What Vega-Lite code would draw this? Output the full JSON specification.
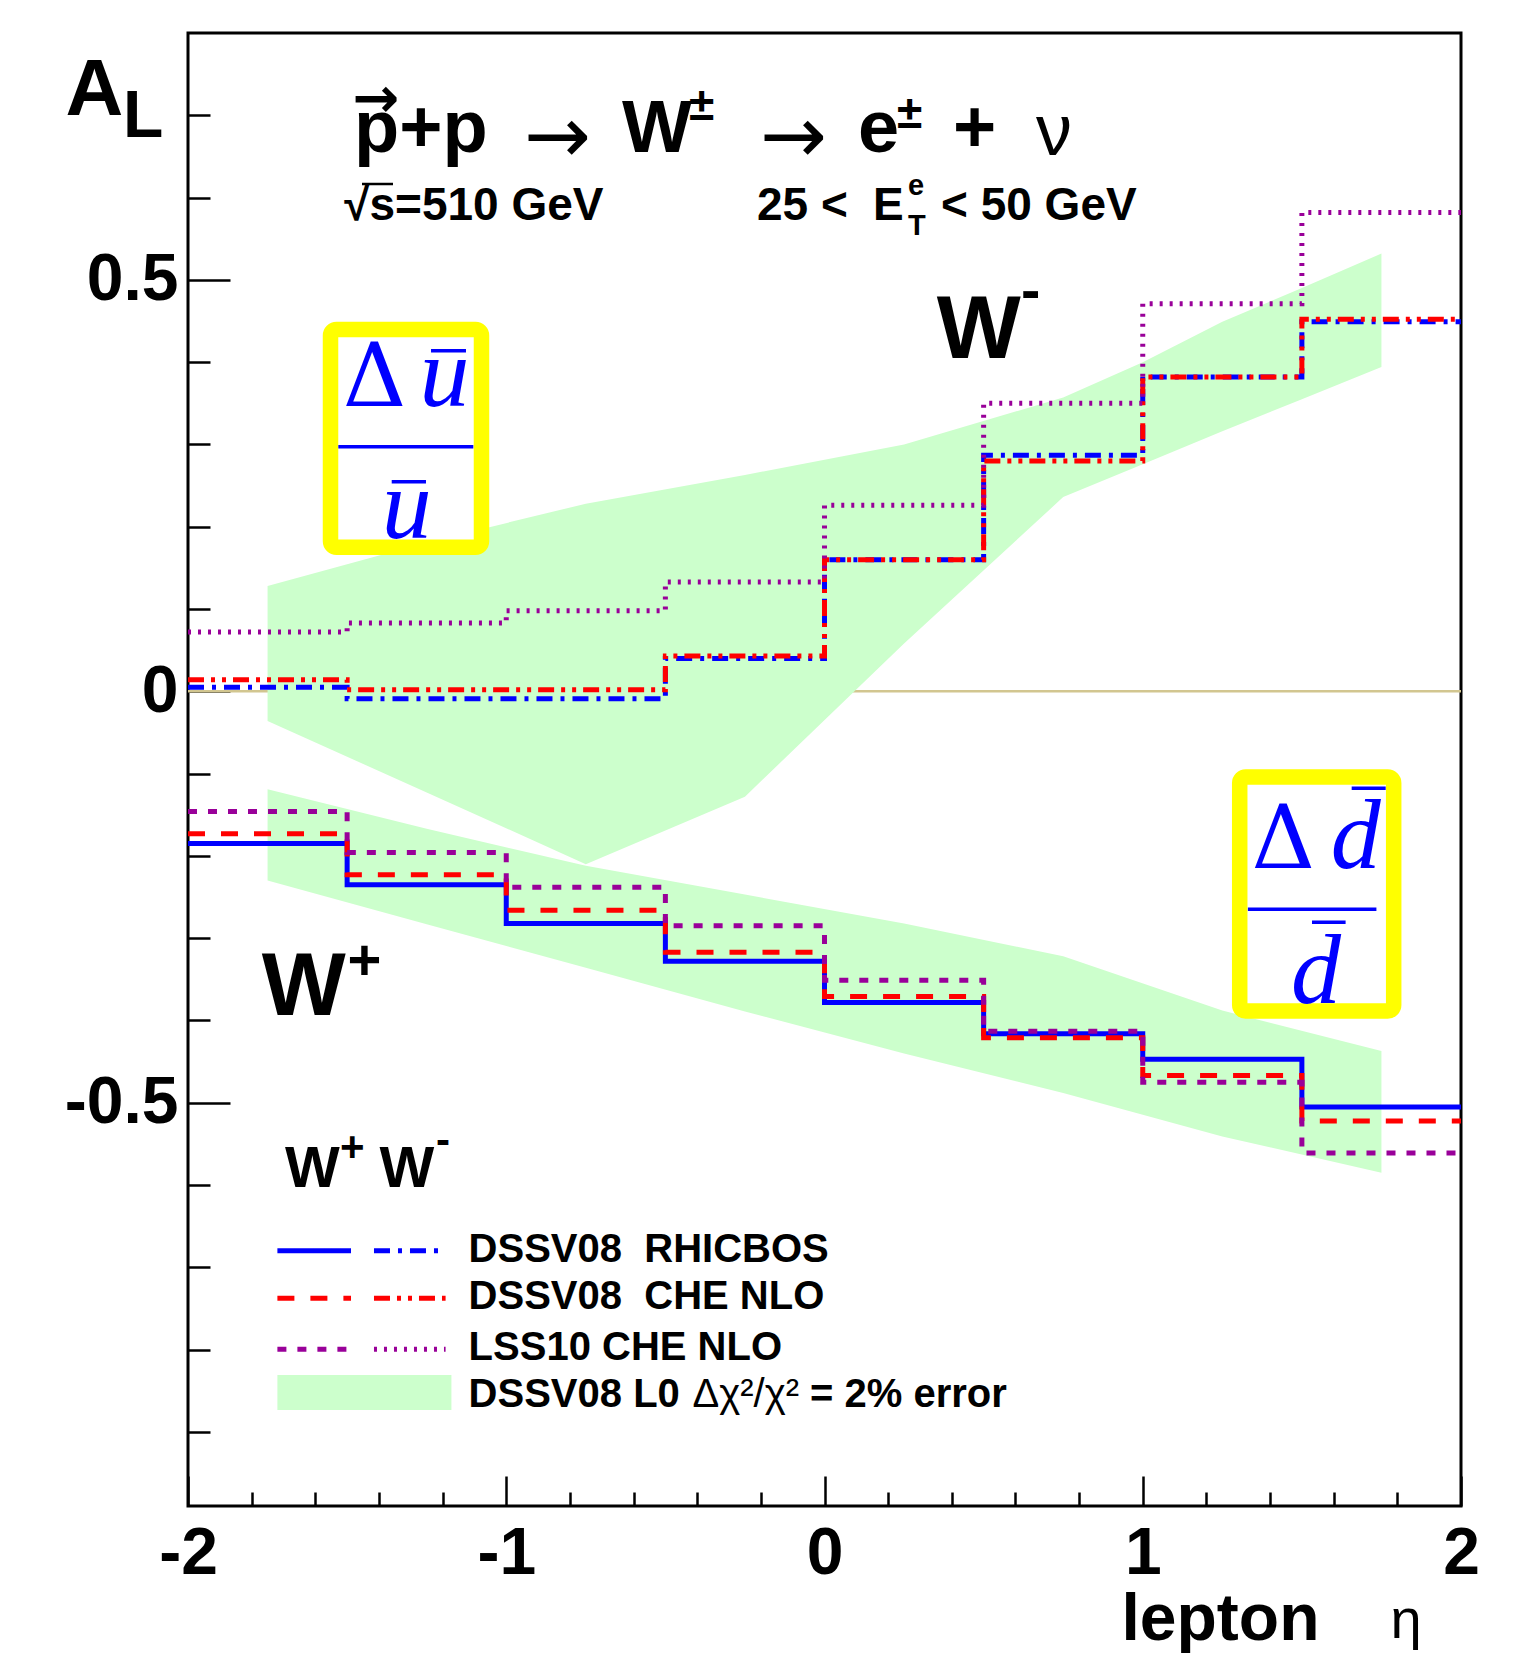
{
  "$schema": "https://vega.github.io/schema/vega-lite/v6.json",
  "width": 1273,
  "height": 1473,
  "autosize": {"type": "none"},
  "padding": {"left": 188, "top": 33, "right": 69, "bottom": 147},
  "background": "white",
  "config": {
    "view": {"stroke": "black", "strokeWidth": 3},
    "axis": {"grid": false, "domain": false, "tickColor": "black", "tickWidth": 2.5, "labelFont": "Liberation Sans", "labelFontWeight": "bold", "labelFontSize": 66, "labelColor": "black", "titleFont": "Liberation Sans", "titleFontWeight": "bold", "titleColor": "black"},
    "text": {"font": "Liberation Sans", "color": "black"}
  },
  "datasets": {
    "lines": [
      {"series": "DSSV08 RHICBOS W+", "eta": -2, "AL": -0.185},
      {"series": "DSSV08 RHICBOS W+", "eta": -1.5, "AL": -0.235},
      {"series": "DSSV08 RHICBOS W+", "eta": -1, "AL": -0.282},
      {"series": "DSSV08 RHICBOS W+", "eta": -0.5, "AL": -0.328},
      {"series": "DSSV08 RHICBOS W+", "eta": 0, "AL": -0.378},
      {"series": "DSSV08 RHICBOS W+", "eta": 0.5, "AL": -0.416},
      {"series": "DSSV08 RHICBOS W+", "eta": 1, "AL": -0.447},
      {"series": "DSSV08 RHICBOS W+", "eta": 1.5, "AL": -0.505},
      {"series": "DSSV08 RHICBOS W+", "eta": 2, "AL": -0.505},
      {"series": "DSSV08 CHE NLO W+", "eta": -2, "AL": -0.173},
      {"series": "DSSV08 CHE NLO W+", "eta": -1.5, "AL": -0.223},
      {"series": "DSSV08 CHE NLO W+", "eta": -1, "AL": -0.266},
      {"series": "DSSV08 CHE NLO W+", "eta": -0.5, "AL": -0.317},
      {"series": "DSSV08 CHE NLO W+", "eta": 0, "AL": -0.371},
      {"series": "DSSV08 CHE NLO W+", "eta": 0.5, "AL": -0.421},
      {"series": "DSSV08 CHE NLO W+", "eta": 1, "AL": -0.467},
      {"series": "DSSV08 CHE NLO W+", "eta": 1.5, "AL": -0.522},
      {"series": "DSSV08 CHE NLO W+", "eta": 2, "AL": -0.522},
      {"series": "LSS10 CHE NLO W+", "eta": -2, "AL": -0.146},
      {"series": "LSS10 CHE NLO W+", "eta": -1.5, "AL": -0.196},
      {"series": "LSS10 CHE NLO W+", "eta": -1, "AL": -0.238},
      {"series": "LSS10 CHE NLO W+", "eta": -0.5, "AL": -0.285},
      {"series": "LSS10 CHE NLO W+", "eta": 0, "AL": -0.351},
      {"series": "LSS10 CHE NLO W+", "eta": 0.5, "AL": -0.413},
      {"series": "LSS10 CHE NLO W+", "eta": 1, "AL": -0.475},
      {"series": "LSS10 CHE NLO W+", "eta": 1.5, "AL": -0.561},
      {"series": "LSS10 CHE NLO W+", "eta": 2, "AL": -0.561},
      {"series": "DSSV08 RHICBOS W-", "eta": -2, "AL": 0.005},
      {"series": "DSSV08 RHICBOS W-", "eta": -1.5, "AL": -0.009},
      {"series": "DSSV08 RHICBOS W-", "eta": -1, "AL": -0.009},
      {"series": "DSSV08 RHICBOS W-", "eta": -0.5, "AL": 0.040},
      {"series": "DSSV08 RHICBOS W-", "eta": 0, "AL": 0.160},
      {"series": "DSSV08 RHICBOS W-", "eta": 0.5, "AL": 0.287},
      {"series": "DSSV08 RHICBOS W-", "eta": 1, "AL": 0.382},
      {"series": "DSSV08 RHICBOS W-", "eta": 1.5, "AL": 0.449},
      {"series": "DSSV08 RHICBOS W-", "eta": 2, "AL": 0.449},
      {"series": "DSSV08 CHE NLO W-", "eta": -2, "AL": 0.014},
      {"series": "DSSV08 CHE NLO W-", "eta": -1.5, "AL": 0.002},
      {"series": "DSSV08 CHE NLO W-", "eta": -1, "AL": 0.002},
      {"series": "DSSV08 CHE NLO W-", "eta": -0.5, "AL": 0.043},
      {"series": "DSSV08 CHE NLO W-", "eta": 0, "AL": 0.160},
      {"series": "DSSV08 CHE NLO W-", "eta": 0.5, "AL": 0.280},
      {"series": "DSSV08 CHE NLO W-", "eta": 1, "AL": 0.382},
      {"series": "DSSV08 CHE NLO W-", "eta": 1.5, "AL": 0.452},
      {"series": "DSSV08 CHE NLO W-", "eta": 2, "AL": 0.452},
      {"series": "LSS10 CHE NLO W-", "eta": -2, "AL": 0.072},
      {"series": "LSS10 CHE NLO W-", "eta": -1.5, "AL": 0.083},
      {"series": "LSS10 CHE NLO W-", "eta": -1, "AL": 0.098},
      {"series": "LSS10 CHE NLO W-", "eta": -0.5, "AL": 0.133},
      {"series": "LSS10 CHE NLO W-", "eta": 0, "AL": 0.226},
      {"series": "LSS10 CHE NLO W-", "eta": 0.5, "AL": 0.350},
      {"series": "LSS10 CHE NLO W-", "eta": 1, "AL": 0.471},
      {"series": "LSS10 CHE NLO W-", "eta": 1.5, "AL": 0.582},
      {"series": "LSS10 CHE NLO W-", "eta": 2, "AL": 0.582}
    ],
    "bands": [
      {"band": "W-", "eta": -1.75, "upper": 0.128, "lower": -0.036},
      {"band": "W-", "eta": -1.25, "upper": 0.181, "lower": -0.123},
      {"band": "W-", "eta": -0.75, "upper": 0.228, "lower": -0.210},
      {"band": "W-", "eta": -0.25, "upper": 0.263, "lower": -0.128},
      {"band": "W-", "eta": 0.25, "upper": 0.300, "lower": 0.058},
      {"band": "W-", "eta": 0.75, "upper": 0.357, "lower": 0.236},
      {"band": "W-", "eta": 1.0, "upper": 0.400, "lower": 0.276},
      {"band": "W-", "eta": 1.25, "upper": 0.449, "lower": 0.316},
      {"band": "W-", "eta": 1.5, "upper": 0.490, "lower": 0.355},
      {"band": "W-", "eta": 1.75, "upper": 0.532, "lower": 0.394},
      {"band": "W+", "eta": -1.75, "upper": -0.119, "lower": -0.230},
      {"band": "W+", "eta": -1.25, "upper": -0.167, "lower": -0.283},
      {"band": "W+", "eta": -0.75, "upper": -0.212, "lower": -0.336},
      {"band": "W+", "eta": -0.25, "upper": -0.247, "lower": -0.389},
      {"band": "W+", "eta": 0.25, "upper": -0.282, "lower": -0.440},
      {"band": "W+", "eta": 0.75, "upper": -0.322, "lower": -0.488},
      {"band": "W+", "eta": 1.25, "upper": -0.388, "lower": -0.541},
      {"band": "W+", "eta": 1.75, "upper": -0.437, "lower": -0.585}
    ],
    "legendSamples": [
      {"series": "DSSV08 RHICBOS W+", "eta": -1.7191, "eta2": -1.4878, "AL": -0.6798},
      {"series": "DSSV08 RHICBOS W-", "eta": -1.4156, "eta2": -1.1906, "AL": -0.6798},
      {"series": "DSSV08 CHE NLO W+", "eta": -1.7191, "eta2": -1.4878, "AL": -0.7376},
      {"series": "DSSV08 CHE NLO W-", "eta": -1.4156, "eta2": -1.1906, "AL": -0.7376},
      {"series": "LSS10 CHE NLO W+", "eta": -1.7191, "eta2": -1.4878, "AL": -0.7996},
      {"series": "LSS10 CHE NLO W-", "eta": -1.4156, "eta2": -1.1906, "AL": -0.7996}
    ],
    "legendBand": [
      {"eta": -1.7191, "eta2": -1.1723, "AL": -0.8308, "AL2": -0.8733}
    ],
    "boxes": [
      {"eta": -1.5522, "eta2": -1.0778, "AL": 0.4397, "AL2": 0.1751},
      {"eta": 1.3047, "eta2": 1.7885, "AL": -0.1041, "AL2": -0.3885}
    ],
    "boxBars": [
      {"eta": -1.2364, "eta2": -1.1265, "AL": 0.4139},
      {"eta": -1.5277, "eta2": -1.1035, "AL": 0.2973},
      {"eta": -1.3599, "eta2": -1.2522, "AL": 0.2547},
      {"eta": 1.6565, "eta2": 1.7634, "AL": -0.1179},
      {"eta": 1.3304, "eta2": 1.7342, "AL": -0.2649},
      {"eta": 1.5318, "eta2": 1.6374, "AL": -0.2807}
    ],
    "sqrtBar": [
      {"eta": -1.4533, "eta2": -1.3559, "AL": 0.6165}
    ],
    "boxDelta": [
      {"label": "Δ", "eta": -1.5139, "AL": 0.3467},
      {"label": "Δ", "eta": 1.3420, "AL": -0.2151}
    ],
    "boxItalic": [
      {"label": "u", "eta": -1.2723, "AL": 0.3467},
      {"label": "u", "eta": -1.3914, "AL": 0.1860},
      {"label": "d", "eta": 1.5906, "AL": -0.2151},
      {"label": "d", "eta": 1.4658, "AL": -0.3791}
    ],
    "header74": [
      {"label": "p+p", "eta": -1.4784, "AL": 0.6554},
      {"label": "W", "eta": -0.6363, "AL": 0.6554},
      {"label": "e", "eta": 0.1053, "AL": 0.6554},
      {"label": "+", "eta": 0.4038, "AL": 0.6554}
    ],
    "headerArrows": [
      {"label": "→", "eta": -0.9442, "AL": 0.642},
      {"label": "→", "eta": -0.2027, "AL": 0.642}
    ],
    "headerNu": [
      {"label": "ν", "eta": 0.6645, "AL": 0.6517}
    ],
    "arrowP": [
      {"label": "→", "eta": -1.4093, "AL": 0.6979}
    ],
    "sup46": [
      {"label": "±", "eta": -0.4258, "AL": 0.6943},
      {"label": "±", "eta": 0.2278, "AL": 0.6846}
    ],
    "sub46": [
      {"label": "√s=510 GeV", "eta": -1.5092, "AL": 0.5728},
      {"label": "25 <", "eta": -0.2121, "AL": 0.5728},
      {"label": "E", "eta": 0.1524, "AL": 0.5728},
      {"label": "< 50 GeV", "eta": 0.3661, "AL": 0.5728}
    ],
    "small29": [
      {"label": "e", "eta": 0.2624, "AL": 0.6031},
      {"label": "T", "eta": 0.2624, "AL": 0.5545}
    ],
    "bigW": [
      {"label": "W", "eta": 0.3525, "AL": 0.4047},
      {"label": "W", "eta": -1.7684, "AL": -0.3933}
    ],
    "bigSup": [
      {"label": "-", "eta": 0.6174, "AL": 0.4628},
      {"label": "+", "eta": -1.4985, "AL": -0.3508}
    ],
    "legendTitle": [
      {"label": "W", "eta": -1.6955, "AL": -0.6020},
      {"label": "W", "eta": -1.3980, "AL": -0.6020}
    ],
    "legendTitleSup": [
      {"label": "+", "eta": -1.5224, "AL": -0.5712},
      {"label": "-", "eta": -1.2207, "AL": -0.5623}
    ],
    "subL": [
      {"label": "L", "eta": -2.2043, "AL": 0.6736}
    ],
    "etaSymbol": [
      {"label": "η", "eta": 1.7785, "AL": -1.1504}
    ],
    "legendText": [
      {"label": "DSSV08\u00a0\u00a0RHICBOS", "eta": -1.1183, "AL": -0.6936},
      {"label": "DSSV08\u00a0\u00a0CHE NLO", "eta": -1.1183, "AL": -0.7503},
      {"label": "LSS10 CHE NLO", "eta": -1.1183, "AL": -0.8131},
      {"label": "DSSV08 L0", "eta": -1.1183, "AL": -0.8699},
      {"label": "= 2% error", "eta": -0.0456, "AL": -0.8699}
    ],
    "legendGreek": [
      {"label": "Δχ²/χ²", "eta": -0.4148, "AL": -0.8699}
    ]
  },
  "resolve": {"axis": {"x": "independent", "y": "independent"}},
  "layer": [
    {
      "data": {"values": [{}]},
      "mark": {"type": "rule", "color": "#d2c690", "strokeWidth": 2.5},
      "encoding": {
        "x": {"datum": -2, "type": "quantitative", "axis": {"orient": "bottom", "values": [-1.8, -1.6, -1.4, -1.2, -0.8, -0.6, -0.4, -0.2, 0.2, 0.4, 0.6, 0.8, 1.2, 1.4, 1.6, 1.8], "tickSize": -14, "labels": false, "title": null}},
        "x2": {"datum": 2},
        "y": {"datum": 0, "type": "quantitative", "axis": {"orient": "left", "values": [-0.9, -0.8, -0.7, -0.6, -0.4, -0.3, -0.2, -0.1, 0.1, 0.2, 0.3, 0.4, 0.6, 0.7], "tickSize": -22, "labels": false, "title": null}}
      }
    },
    {
      "layer": [
        {
          "data": {"name": "bands"},
          "mark": {"type": "area", "color": "#ccffcc", "opacity": 1},
          "encoding": {
            "x": {"field": "eta", "type": "quantitative", "scale": {"domain": [-2, 2], "nice": false, "zero": false},
              "axis": {"orient": "bottom", "values": [-2, -1, 0, 1, 2], "tickSize": -30, "labelPadding": 45, "labelExpr": "'' + datum.value", "labelFlush": false, "labelOverlap": false, "labelBound": false, "labelAngle": 0,
                "title": "lepton", "titleFontSize": 66, "titleAngle": 0, "titleAlign": "left", "titleBaseline": "alphabetic", "titleX": 933, "titleY": 133}},
            "y": {"field": "upper", "type": "quantitative", "scale": {"domain": [-0.99, 0.8], "nice": false, "zero": false},
              "axis": {"orient": "left", "values": [-0.5, 0, 0.5], "tickSize": -42, "labelPadding": 52, "labelExpr": "'' + datum.value", "labelFlush": false, "labelOverlap": false, "labelBound": false,
                "title": "A", "titleFontSize": 80, "titleAngle": 0, "titleAlign": "left", "titleBaseline": "alphabetic", "titleX": -123, "titleY": 81}},
            "y2": {"field": "lower"},
            "detail": {"field": "band", "type": "nominal"}
          }
        },
        {
          "data": {"name": "lines"},
          "mark": {"type": "line", "interpolate": "step-after", "strokeWidth": 5, "strokeCap": "butt"},
          "encoding": {
            "x": {"field": "eta", "type": "quantitative"},
            "y": {"field": "AL", "type": "quantitative"},
            "color": {"field": "series", "type": "nominal", "legend": null,
              "scale": {"domain": ["DSSV08 RHICBOS W+", "DSSV08 CHE NLO W+", "LSS10 CHE NLO W+", "DSSV08 RHICBOS W-", "DSSV08 CHE NLO W-", "LSS10 CHE NLO W-"],
                "range": ["#0000ff", "#ff0000", "#990099", "#0000ff", "#ff0000", "#990099"]}},
            "strokeDash": {"field": "series", "type": "nominal", "legend": null,
              "scale": {"domain": ["DSSV08 RHICBOS W+", "DSSV08 CHE NLO W+", "LSS10 CHE NLO W+", "DSSV08 RHICBOS W-", "DSSV08 CHE NLO W-", "LSS10 CHE NLO W-"],
                "range": [[1, 0], [17, 16], [9, 11], [16, 8, 4, 8], [16, 7, 4, 7, 4, 7], [3, 7]]}}
          }
        },
        {
          "data": {"name": "boxes"},
          "mark": {"type": "rect", "fill": "white", "stroke": "#ffff00", "strokeWidth": 15.5, "cornerRadius": 6},
          "encoding": {
            "x": {"field": "eta", "type": "quantitative"},
            "x2": {"field": "eta2"},
            "y": {"field": "AL", "type": "quantitative"},
            "y2": {"field": "AL2"}
          }
        },
        {
          "data": {"name": "boxBars"},
          "mark": {"type": "rule", "color": "#0000ff", "strokeWidth": 3.5},
          "encoding": {
            "x": {"field": "eta", "type": "quantitative"},
            "x2": {"field": "eta2"},
            "y": {"field": "AL", "type": "quantitative"}
          }
        },
        {
          "data": {"name": "sqrtBar"},
          "mark": {"type": "rule", "color": "black", "strokeWidth": 2.5},
          "encoding": {
            "x": {"field": "eta", "type": "quantitative"},
            "x2": {"field": "eta2"},
            "y": {"field": "AL", "type": "quantitative"}
          }
        },
        {
          "data": {"name": "boxDelta"},
          "mark": {"type": "text", "font": "DejaVu Serif", "fontSize": 88, "color": "#0000ff", "align": "left", "baseline": "alphabetic"},
          "encoding": {"x": {"field": "eta", "type": "quantitative"}, "y": {"field": "AL", "type": "quantitative"}, "text": {"field": "label"}}
        },
        {
          "data": {"name": "boxItalic"},
          "mark": {"type": "text", "font": "Liberation Serif", "fontStyle": "italic", "fontSize": 100, "color": "#0000ff", "align": "left", "baseline": "alphabetic"},
          "encoding": {"x": {"field": "eta", "type": "quantitative"}, "y": {"field": "AL", "type": "quantitative"}, "text": {"field": "label"}}
        },
        {
          "data": {"name": "legendSamples"},
          "mark": {"type": "rule", "strokeWidth": 5, "strokeCap": "butt"},
          "encoding": {
            "x": {"field": "eta", "type": "quantitative"},
            "x2": {"field": "eta2"},
            "y": {"field": "AL", "type": "quantitative"},
            "color": {"field": "series", "type": "nominal", "legend": null},
            "strokeDash": {"field": "series", "type": "nominal", "legend": null}
          }
        },
        {
          "data": {"name": "legendBand"},
          "mark": {"type": "rect", "color": "#ccffcc"},
          "encoding": {
            "x": {"field": "eta", "type": "quantitative"},
            "x2": {"field": "eta2"},
            "y": {"field": "AL", "type": "quantitative"},
            "y2": {"field": "AL2"}
          }
        },
        {
          "data": {"name": "header74"},
          "mark": {"type": "text", "fontSize": 74, "fontWeight": "bold", "align": "left", "baseline": "alphabetic"},
          "encoding": {"x": {"field": "eta", "type": "quantitative"}, "y": {"field": "AL", "type": "quantitative"}, "text": {"field": "label"}}
        },
        {
          "data": {"name": "headerArrows"},
          "mark": {"type": "text", "font": "DejaVu Sans", "fontSize": 80, "align": "left", "baseline": "alphabetic"},
          "encoding": {"x": {"field": "eta", "type": "quantitative"}, "y": {"field": "AL", "type": "quantitative"}, "text": {"field": "label"}}
        },
        {
          "data": {"name": "headerNu"},
          "mark": {"type": "text", "fontSize": 72, "align": "left", "baseline": "alphabetic"},
          "encoding": {"x": {"field": "eta", "type": "quantitative"}, "y": {"field": "AL", "type": "quantitative"}, "text": {"field": "label"}}
        },
        {
          "data": {"name": "arrowP"},
          "mark": {"type": "text", "font": "DejaVu Sans", "fontSize": 56, "fontWeight": "bold", "align": "center", "baseline": "alphabetic"},
          "encoding": {"x": {"field": "eta", "type": "quantitative"}, "y": {"field": "AL", "type": "quantitative"}, "text": {"field": "label"}}
        },
        {
          "data": {"name": "sup46"},
          "mark": {"type": "text", "fontSize": 46, "fontWeight": "bold", "align": "left", "baseline": "alphabetic"},
          "encoding": {"x": {"field": "eta", "type": "quantitative"}, "y": {"field": "AL", "type": "quantitative"}, "text": {"field": "label"}}
        },
        {
          "data": {"name": "sub46"},
          "mark": {"type": "text", "fontSize": 46, "fontWeight": "bold", "align": "left", "baseline": "alphabetic"},
          "encoding": {"x": {"field": "eta", "type": "quantitative"}, "y": {"field": "AL", "type": "quantitative"}, "text": {"field": "label"}}
        },
        {
          "data": {"name": "small29"},
          "mark": {"type": "text", "fontSize": 29, "fontWeight": "bold", "align": "left", "baseline": "alphabetic"},
          "encoding": {"x": {"field": "eta", "type": "quantitative"}, "y": {"field": "AL", "type": "quantitative"}, "text": {"field": "label"}}
        },
        {
          "data": {"name": "bigW"},
          "mark": {"type": "text", "fontSize": 89, "fontWeight": "bold", "align": "left", "baseline": "alphabetic"},
          "encoding": {"x": {"field": "eta", "type": "quantitative"}, "y": {"field": "AL", "type": "quantitative"}, "text": {"field": "label"}}
        },
        {
          "data": {"name": "bigSup"},
          "mark": {"type": "text", "fontSize": 58, "fontWeight": "bold", "align": "left", "baseline": "alphabetic"},
          "encoding": {"x": {"field": "eta", "type": "quantitative"}, "y": {"field": "AL", "type": "quantitative"}, "text": {"field": "label"}}
        },
        {
          "data": {"name": "legendTitle"},
          "mark": {"type": "text", "fontSize": 58, "fontWeight": "bold", "align": "left", "baseline": "alphabetic"},
          "encoding": {"x": {"field": "eta", "type": "quantitative"}, "y": {"field": "AL", "type": "quantitative"}, "text": {"field": "label"}}
        },
        {
          "data": {"name": "legendTitleSup"},
          "mark": {"type": "text", "fontSize": 42, "fontWeight": "bold", "align": "left", "baseline": "alphabetic"},
          "encoding": {"x": {"field": "eta", "type": "quantitative"}, "y": {"field": "AL", "type": "quantitative"}, "text": {"field": "label"}}
        },
        {
          "data": {"name": "subL"},
          "mark": {"type": "text", "fontSize": 66, "fontWeight": "bold", "align": "left", "baseline": "alphabetic"},
          "encoding": {"x": {"field": "eta", "type": "quantitative"}, "y": {"field": "AL", "type": "quantitative"}, "text": {"field": "label"}}
        },
        {
          "data": {"name": "etaSymbol"},
          "mark": {"type": "text", "fontSize": 56, "align": "left", "baseline": "alphabetic"},
          "encoding": {"x": {"field": "eta", "type": "quantitative"}, "y": {"field": "AL", "type": "quantitative"}, "text": {"field": "label"}}
        },
        {
          "data": {"name": "legendText"},
          "mark": {"type": "text", "fontSize": 40, "fontWeight": "bold", "align": "left", "baseline": "alphabetic"},
          "encoding": {"x": {"field": "eta", "type": "quantitative"}, "y": {"field": "AL", "type": "quantitative"}, "text": {"field": "label"}}
        },
        {
          "data": {"name": "legendGreek"},
          "mark": {"type": "text", "fontSize": 40, "align": "left", "baseline": "alphabetic"},
          "encoding": {"x": {"field": "eta", "type": "quantitative"}, "y": {"field": "AL", "type": "quantitative"}, "text": {"field": "label"}}
        }
      ]
    }
  ]
}
